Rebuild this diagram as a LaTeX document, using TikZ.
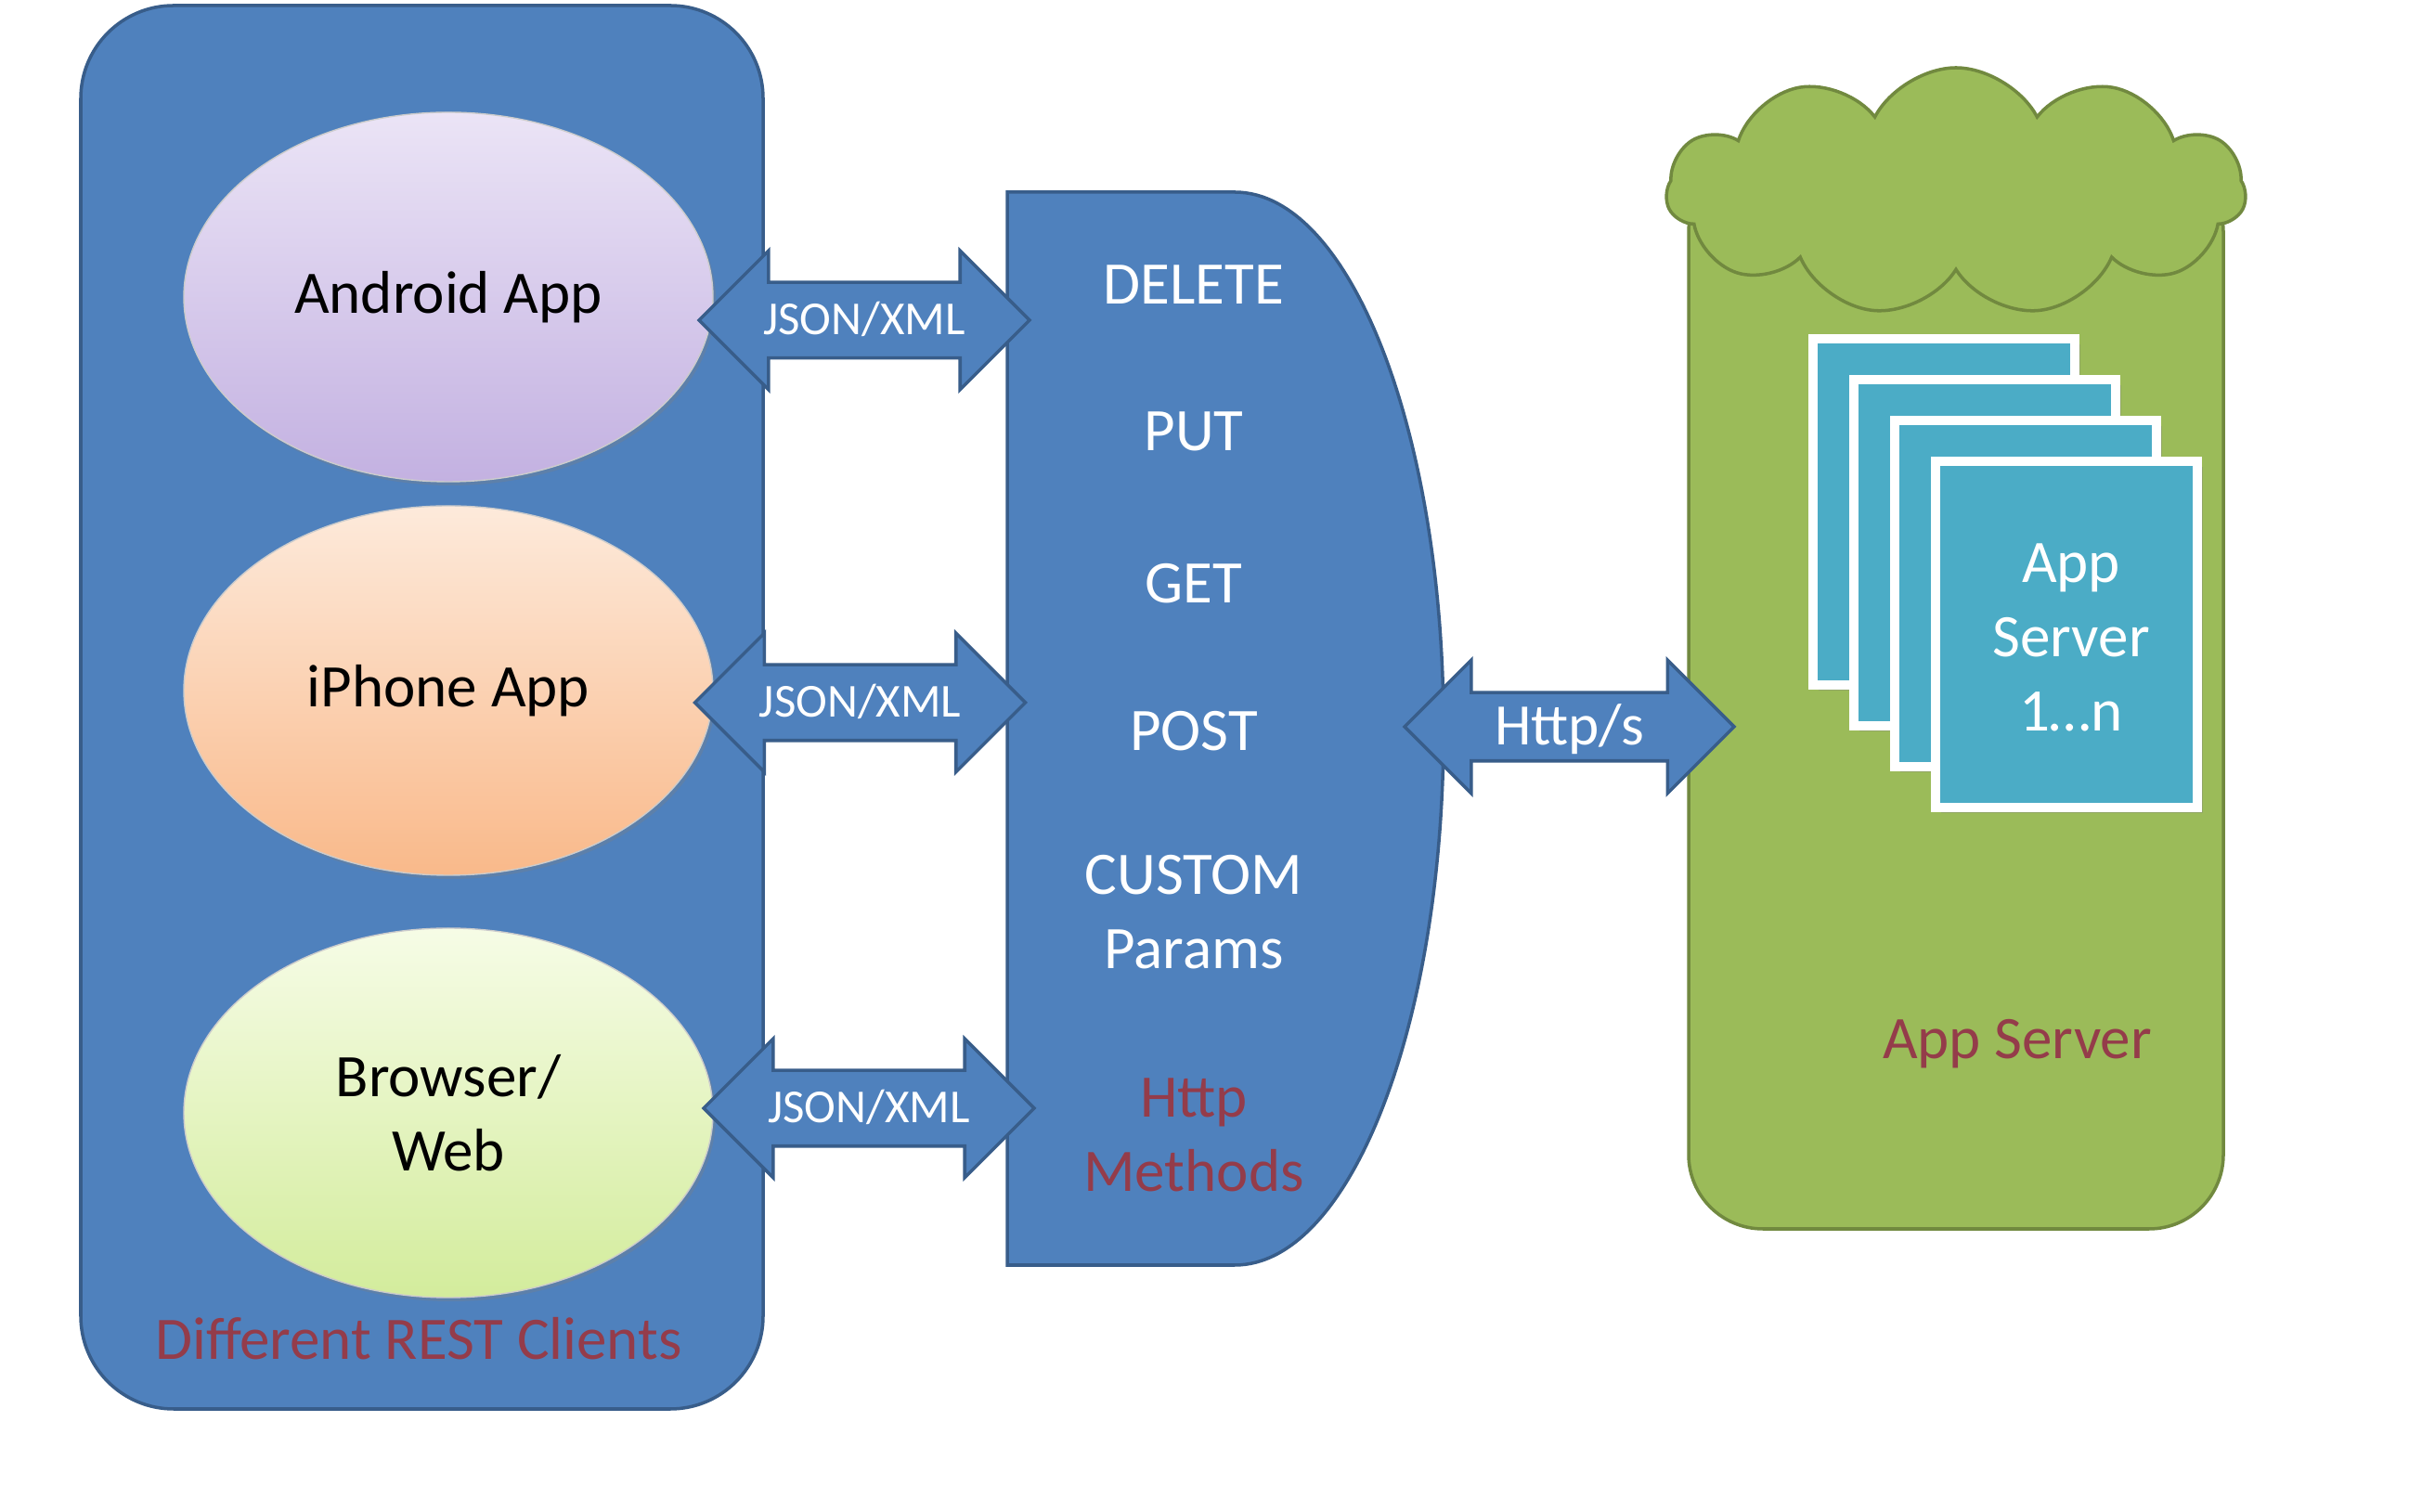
\documentclass[tikz,border=0pt]{standalone}
\usepackage{fontspec}
\setmainfont{Carlito}
\usetikzlibrary{shapes.geometric,shapes.arrows,shapes.symbols,shadows}
\definecolor{restblue}{HTML}{4F81BD}
\definecolor{restedge}{HTML}{385D8A}
\definecolor{srvgreen}{HTML}{9BBB59}
\definecolor{srvedge}{HTML}{71893F}
\definecolor{pageteal}{HTML}{4BACC6}
\definecolor{labelred}{HTML}{943C4A}
\definecolor{androidtop}{HTML}{EBE4F6}
\definecolor{androidbot}{HTML}{C3B1E1}
\definecolor{iphonetop}{HTML}{FDEADB}
\definecolor{iphonebot}{HTML}{F9B98A}
\definecolor{browsertop}{HTML}{F6FCE6}
\definecolor{browserbot}{HTML}{D3EC9C}
\begin{document}
\begin{tikzpicture}[
  client/.style={ellipse,minimum width=5.7cm,minimum height=3.98cm,draw=black!20,
    drop shadow={opacity=0.3,shadow xshift=0.03cm,shadow yshift=-0.04cm},
    align=center,font=\fontsize{18.5}{22.8}\selectfont},
  bigtext/.style={text=white,align=center,font=\fontsize{18.5}{22.8}\selectfont},
  redtext/.style={text=labelred,align=center,font=\fontsize{18.5}{22.8}\selectfont},
  jsonarrow/.style={double arrow,fill=restblue,draw=restedge,line width=1pt,
    double arrow head extend=0.34cm,inner xsep=0pt,inner ysep=0pt,
    text height=0.55cm,text depth=0.23cm,minimum height=3.56cm,
    text=white,font=\fontsize{14.5}{17}\selectfont},
  srvpage/.style={rectangle,fill=pageteal,draw=white,line width=2.8pt,
    minimum width=2.82cm,minimum height=3.73cm,
    drop shadow={opacity=0.35,shadow xshift=0.06cm,shadow yshift=-0.06cm}}
]
\path[use as bounding box,fill=white] (0,0) rectangle (25.95,16.28);

% clients
\node[draw=restedge,fill=restblue,line width=1pt,rounded corners=1cm,
  minimum width=7.35cm,minimum height=15.12cm] (clients) at (4.545,8.66) {};
\node[client,top color=androidtop,bottom color=androidbot] (android) at (4.83,13.08) {Android App};
\node[client,top color=iphonetop,bottom color=iphonebot] (iphone) at (4.83,8.84) {iPhone App};
\node[client,top color=browsertop,bottom color=browserbot] (browser) at (4.83,4.29) {Browser/\\Web};
\node[redtext] (clientslabel) at (4.51,1.86) {Different REST Clients};

% http methods
\draw[fill=restblue,draw=restedge,line width=1pt] (10.85,14.21) -- (13.30,14.21)
  arc[start angle=90,end angle=-90,x radius=2.25cm,y radius=5.78cm] -- (10.85,2.65) -- cycle;
\node[bigtext] (delete) at (12.86,13.21) {DELETE};
\node[bigtext] (put) at (12.86,11.63) {PUT};
\node[bigtext] (get) at (12.86,9.99) {GET};
\node[bigtext] (post) at (12.86,8.40) {POST};
\node[bigtext] (custom) at (12.86,6.45) {CUSTOM\\Params};
\node[redtext] (httpm) at (12.86,4.05) {Http\\Methods};

% app server
\node[draw=srvedge,fill=srvgreen,line width=1pt,rounded corners=0.8cm,
  minimum width=5.76cm,minimum height=11.54cm] (appserver) at (21.07,8.81) {};
\node[cloud,cloud puffs=11,cloud puff arc=125,cloud ignores aspect,draw=srvedge,fill=srvgreen,
  line width=1pt,minimum width=6.24cm,minimum height=2.67cm] (cloud) at (21.07,14.215) {};
\foreach \i in {0,...,3}
  \node[srvpage] (page\i) at ({20.94+0.44*\i},{10.765-0.44*\i}) {};
\node[bigtext] (pagetext) at (22.31,9.41) {App\\Server\\1…n};
\node[redtext] (serverlabel) at (21.73,5.03) {App Server};

% arrows
\node[jsonarrow] (jsonA) at (9.31,12.83) {JSON/XML};
\node[jsonarrow] (jsonI) at (9.265,8.71) {JSON/XML};
\node[jsonarrow] (jsonB) at (9.36,4.34) {JSON/XML};
\node[jsonarrow,double arrow head extend=0.35cm,text height=0.55cm,text depth=0.15cm,
  minimum height=3.55cm,font=\fontsize{18}{22}\selectfont] (https) at (16.905,8.45) {Http/s};
\end{tikzpicture}
\end{document}
